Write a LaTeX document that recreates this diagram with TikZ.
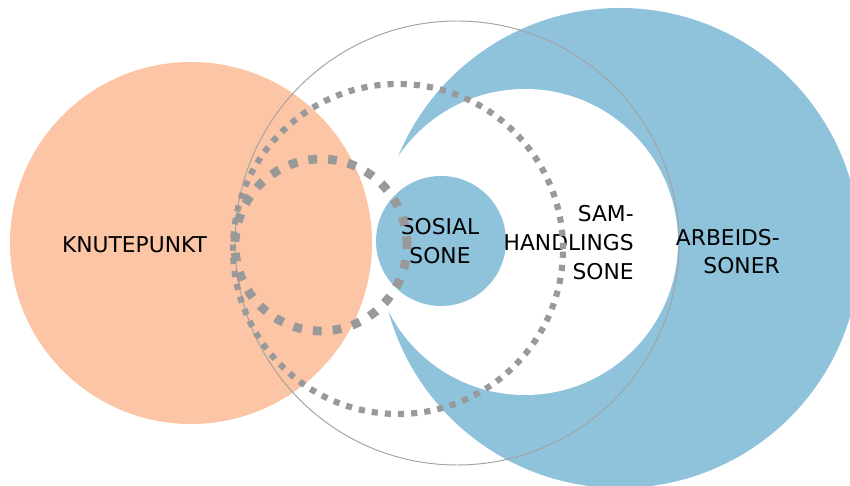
\documentclass[tikz,border=0pt]{standalone}
\usepackage{fontspec}
\setmainfont{DejaVu Sans}
\definecolor{orangefill}{RGB}{252,197,165}
\definecolor{bluefill}{RGB}{142,195,219}
\definecolor{dotgray}{RGB}{153,153,153}

\begin{document}
\begin{tikzpicture}[scale=0.2,
  label/.style={inner sep=0pt,font=\fontsize{12.4}{16.4}\selectfont},
  thinring/.style={draw=dotgray!90,line width=0.55pt},
  smalldots/.style={draw=dotgray,line width=3.5pt,dash pattern=on 3.5pt off 4pt},
  bigdots/.style={draw=dotgray,line width=5pt,dash pattern=on 5pt off 6.3pt}]
\useasboundingbox (0,0) rectangle (85,48.6);
\clip (0,0) rectangle (85,48.6);
% ---------- zones ----------
\fill[bluefill] (62,23.8) circle (24);
\fill[white] (52.5,24.4) circle (15.3);
\fill[orangefill] (19.1,24.3) circle (18.1);
\fill[bluefill] (44.1,24.5) circle (6.5);
\draw[thinring] (45.7,24.3) circle (22.2);
% ---------- labels ----------
\node[label] (knutepunkt) at (13.45,24.1) {KNUTEPUNKT};
\node[label,align=center] (sosial) at (44,24.5) {SOSIAL\\SONE};
\node[label,align=right,anchor=east] (samhandling) at (63.4,24.35) {SAM-\\HANDLINGS\\SONE};
\node[label,align=right,anchor=east] (arbeids) at (78,23.45) {ARBEIDS-\\SONER};
% ---------- dotted rings ----------
\draw[smalldots] (39.8,23.7) circle (16.5);
\draw[bigdots] (32.1,24.1) circle (8.6);
\end{tikzpicture}
\end{document}
